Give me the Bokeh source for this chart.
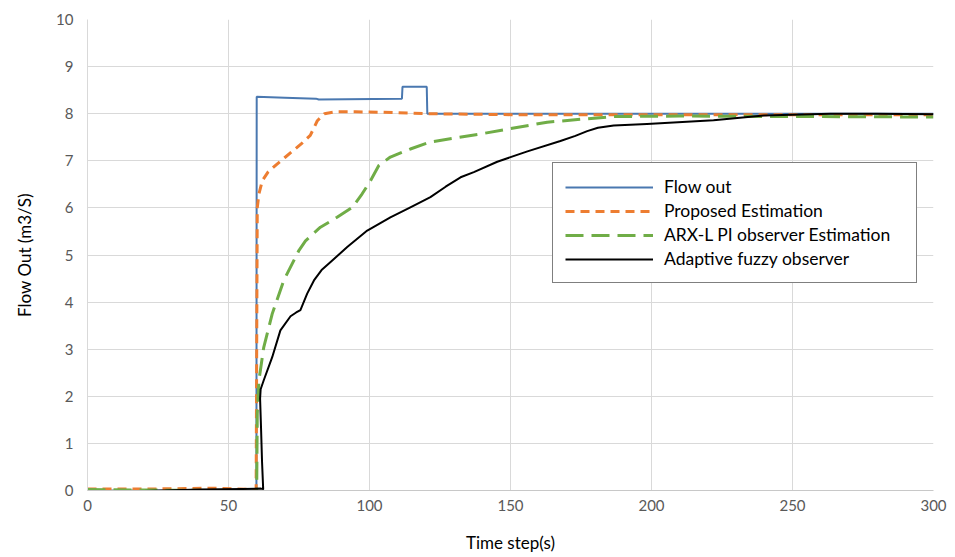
from bokeh.plotting import figure
from bokeh.models import Range1d, Legend, LegendItem, FixedTicker
from bokeh.embed import file_html
from bokeh.resources import INLINE

# Flow out (step signal)
flow_x = [0, 59.9, 60.0, 70, 81, 82, 111.5, 111.7, 120.3, 120.5, 200, 300]
flow_y = [0.0, 0.0, 8.36, 8.34, 8.32, 8.30, 8.32, 8.57, 8.57, 8.0, 8.0, 8.0]

# Proposed estimation
prop_x = [0, 20, 45, 59.8, 60.0, 60.2, 60.8, 62, 64, 67, 70, 73, 76, 79, 81.5, 84, 88, 95, 105, 120, 150, 200, 250, 300]
prop_y = [0.03, 0.03, 0.05, 0.02, 3.0, 6.0, 6.3, 6.58, 6.76, 6.92, 7.07, 7.22, 7.37, 7.54, 7.85, 8.0, 8.04, 8.04, 8.03, 8.0, 7.98, 7.98, 7.98, 7.98]

# ARX-L PI observer estimation
arx_x = [0, 20, 45, 55, 59.6, 60.0, 60.2, 60.8, 62.5, 65.5, 69.6, 75, 77.3, 82.6, 88.5, 93.9, 97.4, 100.4, 103.3, 107.4, 114.5, 121.6, 139.4, 163, 186.5, 210, 250, 300]
arx_y = [0.02, 0.01, 0.0, -0.03, -0.06, 0.0, 1.63, 2.34, 3.04, 3.75, 4.46, 5.1, 5.3, 5.59, 5.8, 6.01, 6.3, 6.58, 6.9, 7.08, 7.25, 7.4, 7.57, 7.82, 7.94, 7.95, 7.94, 7.93]

# Adaptive fuzzy observer
fuzzy_x = [1, 20, 40, 55, 61.5, 62.3, 61.9, 61.5, 61.2, 61.4, 62.5, 65.5, 68.4, 72, 74, 75.5, 77.9, 80.3, 83, 86.2, 92.1, 99.2, 107.4, 114.5, 121.6, 127, 132.3, 137, 145.3, 156, 167.7, 173, 177.2, 181, 186.6, 198.4, 222, 239.8, 263.5, 280, 300]
fuzzy_y = [-0.03, -0.01, 0.02, 0.03, 0.04, 0.03, 0.6, 1.4, 1.95, 2.15, 2.34, 2.83, 3.4, 3.7, 3.78, 3.83, 4.18, 4.46, 4.68, 4.85, 5.17, 5.52, 5.8, 6.01, 6.23, 6.45, 6.65, 6.76, 6.98, 7.2, 7.42, 7.53, 7.63, 7.7, 7.75, 7.78, 7.86, 7.96, 8.0, 8.0, 7.99]

x_ticks = [0, 50, 100, 150, 200, 250, 300]
y_ticks = [0, 1, 2, 3, 4, 5, 6, 7, 8, 9, 10]

FONT = "Lato"

p = figure(width=955, height=557, output_backend="svg", toolbar_location=None,
           x_range=Range1d(0, 300), y_range=Range1d(0, 10),
           min_border_left=87, min_border_right=22, min_border_top=19, min_border_bottom=67)
p.outline_line_color = None
p.background_fill_color = "white"
p.border_fill_color = "white"

for ax in (p.xaxis[0], p.yaxis[0]):
    ax.major_tick_line_color = None
    ax.minor_tick_line_color = None
    ax.major_tick_in = 0
    ax.major_tick_out = 0
    ax.minor_tick_in = 0
    ax.minor_tick_out = 0
    ax.major_label_text_font = FONT
    ax.major_label_text_font_size = "15px"
    ax.major_label_text_color = "#595959"
    ax.axis_label_text_font = FONT
    ax.axis_label_text_font_size = "17px"
    ax.axis_label_text_font_style = "normal"
    ax.axis_label_text_color = "black"

p.xaxis.ticker = FixedTicker(ticks=x_ticks)
p.yaxis.ticker = FixedTicker(ticks=y_ticks)
p.xaxis.axis_label = "Time step(s)"
p.yaxis.axis_label = "Flow Out (m3/S)"
p.xaxis.axis_line_color = "#c8c8c8"
p.yaxis.axis_line_color = "#d9d9d9"
p.xaxis.major_label_standoff = 9
p.yaxis.major_label_standoff = 14
p.xaxis.axis_label_standoff = 18
p.yaxis.axis_label_standoff = 18

p.xgrid.ticker = FixedTicker(ticks=x_ticks)
p.ygrid.ticker = FixedTicker(ticks=y_ticks)
p.grid.grid_line_color = "#d9d9d9"
p.grid.grid_line_width = 1

r_flow = p.line(flow_x, flow_y, line_color="#4a78b0", line_width=2)
r_prop = p.line(prop_x, prop_y, line_color="#ed7d31", line_width=3, line_dash="9 6")
r_arx = p.line(arx_x, arx_y, line_color="#70ad47", line_width=3, line_dash="18 8")
r_fuzzy = p.line(fuzzy_x, fuzzy_y, line_color="black", line_width=2, line_join="round")

legend = Legend(items=[
    LegendItem(label="Flow out", renderers=[r_flow]),
    LegendItem(label="Proposed Estimation", renderers=[r_prop]),
    LegendItem(label="ARX-L PI observer Estimation", renderers=[r_arx]),
    LegendItem(label="Adaptive fuzzy observer", renderers=[r_fuzzy]),
], location=(465, 207))
legend.label_text_font = FONT
legend.label_text_font_size = "17.5px"
legend.label_text_color = "black"
legend.glyph_width = 88
legend.glyph_height = 20
legend.label_height = 23
legend.label_width = 240
legend.label_standoff = 11
legend.spacing = 1
legend.padding = 12
legend.margin = 0
legend.border_line_color = "black"
legend.border_line_width = 1
legend.background_fill_color = "white"
legend.background_fill_alpha = 1
p.add_layout(legend, "center")

open("out.html", "w").write(file_html(p, INLINE))
